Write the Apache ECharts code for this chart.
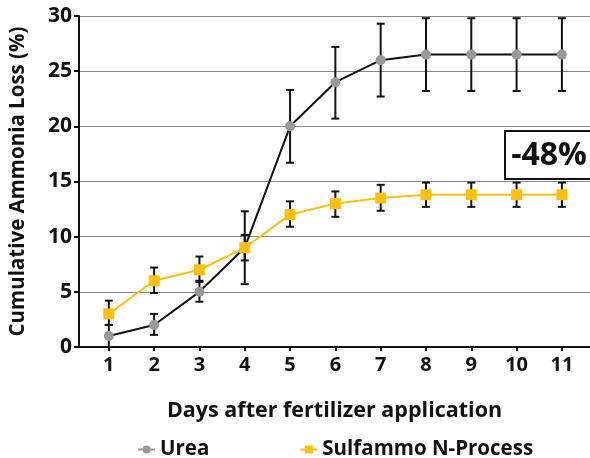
<!DOCTYPE html>
<html><head><meta charset="utf-8">
<script src="https://cdn.jsdelivr.net/npm/echarts@6/dist/echarts.min.js"></script>
<style>html,body{margin:0;padding:0;background:#fff}#c{width:590px;height:458px}</style>
</head><body><div id="c"></div>
<script>
const days = [1,2,3,4,5,6,7,8,9,10,11];
const ureaVal  = [1, 2, 5, 9, 20, 24, 26, 26.5, 26.5, 26.5, 26.5];
const ureaLow  = [0, 1.1, 4.1, 5.7, 16.7, 20.7, 22.7, 23.2, 23.2, 23.2, 23.2];
const ureaHigh = [2.0, 3.0, 6.0, 12.3, 23.3, 27.2, 29.3, 29.8, 29.8, 29.8, 29.8];
const sulfVal  = [3, 6, 7, 9, 12, 13, 13.5, 13.8, 13.8, 13.8, 13.8];
const sulfLow  = [2.0, 4.9, 5.9, 7.85, 10.9, 11.8, 12.35, 12.7, 12.7, 12.7, 12.7];
const sulfHigh = [4.2, 7.2, 8.2, 10.15, 13.2, 14.1, 14.7, 14.9, 14.9, 14.9, 14.9];
const yTicks = [0,5,10,15,20,25,30];
const annotation = '-48%';

const FONT = 'Open Sans';
const chart = echarts.init(document.getElementById('c'));

function errSeries(name, low, high) {
  return {
    type: 'custom', name: name + ' err', z: 3, silent: true,
    data: days.map((d,i)=>[d, low[i], high[i]]),
    renderItem: function(params, api) {
      const x = api.value(0);
      const lo = api.coord([x, api.value(1)]);
      const hi = api.coord([x, api.value(2)]);
      const w = 4;
      const st = {stroke:'#111', lineWidth:2};
      return {type:'group', children:[
        {type:'line', shape:{x1:lo[0],y1:lo[1],x2:hi[0],y2:hi[1]}, style:st},
        {type:'line', shape:{x1:lo[0]-w,y1:lo[1],x2:lo[0]+w,y2:lo[1]}, style:st},
        {type:'line', shape:{x1:hi[0]-w,y1:hi[1],x2:hi[0]+w,y2:hi[1]}, style:st}
      ]};
    }
  };
}

chart.setOption({
  animation: false,
  textStyle: {fontFamily: FONT},
  grid: {left: 75, right: 0, top: 16, bottom: 111, containLabel: false},
  xAxis: {
    type: 'value', min: 0.342, max: 11.62,
    name: 'Days after fertilizer application', nameLocation: 'middle', nameGap: 53,
    nameTextStyle: {fontFamily: FONT, fontWeight: 'bold', fontSize: 21.5, color: '#111'},
    axisLine: {show: true, lineStyle: {color: '#111', width: 2}},
    axisTick: {show: true, customValues: days, length: 4, lineStyle: {color: '#111', width: 2}},
    axisLabel: {customValues: days, fontFamily: FONT, fontWeight: 'bold', fontSize: 20, color: '#111', margin: 8},
    splitLine: {show: false}
  },
  yAxis: {
    type: 'value', min: 0, max: 30, interval: 5,
    name: 'Cumulative Ammonia Loss (%)', nameLocation: 'middle', nameGap: 50, nameRotate: 90,
    nameTextStyle: {fontFamily: FONT, fontWeight: 'bold', fontSize: 20.5, color: '#111'},
    axisLine: {show: true, lineStyle: {color: '#111', width: 2}},
    axisTick: {show: true, length: 5, lineStyle: {color: '#111', width: 2}},
    axisLabel: {fontFamily: FONT, fontWeight: 'bold', fontSize: 21, color: '#111', margin: 7,
      formatter: v => yTicks.includes(v) ? String(v) : ''},
    splitLine: {show: true, lineStyle: {color: '#888', width: 1}}
  },
  legend: {
    bottom: -7, left: 132, itemGap: 90, itemWidth: 17, itemHeight: 10,
    textStyle: {fontFamily: FONT, fontWeight: 'bold', fontSize: 20.5, color: '#111'},
    data: [
      {name: 'Urea', lineStyle: {color: '#999999'}},
      {name: 'Sulfammo N-Process'}
    ]
  },
  series: [
    errSeries('Urea', ureaLow, ureaHigh),
    errSeries('Sulfammo', sulfLow, sulfHigh),
    {
      name: 'Urea', type: 'line', z: 4,
      data: days.map((d,i)=>[d, ureaVal[i]]),
      symbol: 'circle', symbolSize: 10,
      itemStyle: {color: '#999999'},
      lineStyle: {color: '#111', width: 2}
    },
    {
      name: 'Sulfammo N-Process', type: 'line', z: 4,
      data: days.map((d,i)=>[d, sulfVal[i]]),
      symbol: 'rect', symbolSize: 11,
      itemStyle: {color: '#FDC010'},
      lineStyle: {color: '#FDC010', width: 2}
    }
  ],
  graphic: [{
    type: 'group', left: 504, top: 130,
    children: [
      {type: 'rect', shape: {x: 0, y: 0, width: 88, height: 48},
       style: {fill: '#fff', stroke: '#111', lineWidth: 2}},
      {type: 'text', x: 44, y: 25, style: {text: annotation, fontFamily: FONT, fontWeight: 'bold',
        fontSize: 32, fill: '#111', align: 'center', verticalAlign: 'middle'}}
    ]
  }]
});
</script></body></html>
